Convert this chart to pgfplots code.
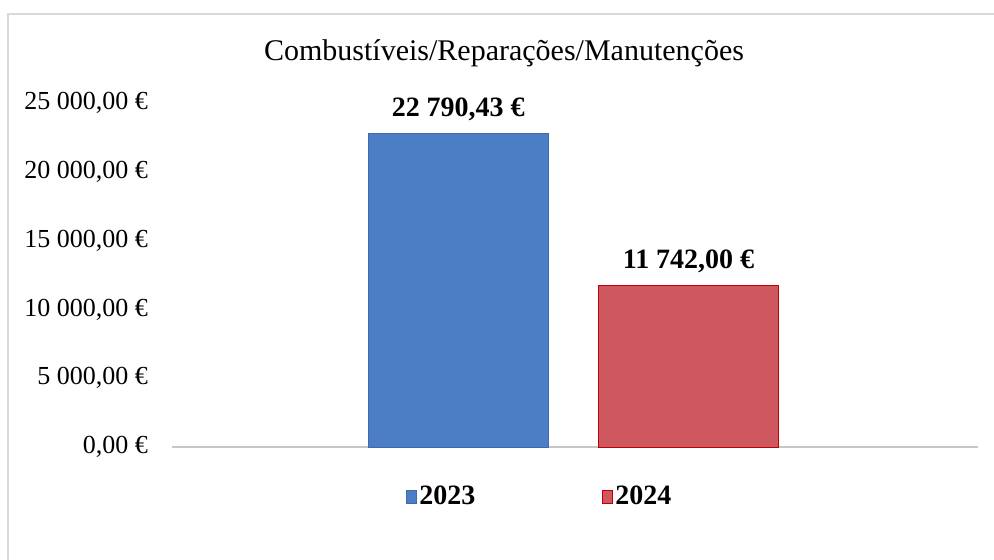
\documentclass[border=0pt]{standalone}
\usepackage{fontspec}
\setmainfont{Liberation Serif}
\usepackage{pgfplots}
\pgfplotsset{compat=1.18}
\definecolor{bluebar}{RGB}{76,126,198}
\definecolor{redbar}{RGB}{207,88,96}

\begin{document}
\begin{tikzpicture}
% page is 994x560 px at 0.5pt per px
\useasboundingbox (0pt,0pt) rectangle (497pt,-280pt);
\draw[gray!30, line width=0.6pt] (4pt,-280pt) -- (4pt,-7pt) -- (497pt,-7pt);
\node[font=\fontsize{15}{17}\selectfont] at (252pt,-26.5pt) {Combustíveis/Reparações/Manutenções};
\begin{axis}[
    at={(86pt,-223.5pt)}, anchor=south west,
    scale only axis,
    width=403pt, height=172pt,
    xmin=0, xmax=3.5,
    ymin=0, ymax=25000,
    ybar, bar width=0.78, bar shift=0pt,
    xtick=\empty,
    scaled y ticks=false,
    ytick={0,5000,10000,15000,20000,25000},
    yticklabels={{0,00 €}, {5 000,00 €}, {10 000,00 €}, {15 000,00 €}, {20 000,00 €}, {25 000,00 €}},
    yticklabel style={font=\fontsize{13}{15}\selectfont, xshift=-8.5pt},
    major tick length=0pt,
    axis x line*=bottom, axis y line*=left,
    y axis line style={draw=none},
    x axis line style={draw=gray!45, line width=0.6pt, -},
    nodes near coords, point meta=explicit symbolic,
    every node near coord/.append style={font=\bfseries\fontsize{14}{16}\selectfont, black, yshift=3pt},
    legend style={at={(0.457,-0.145)}, anchor=center, draw=none, fill=none,
        legend columns=2, font=\bfseries\fontsize{14}{16}\selectfont,
        nodes={inner sep=1.5pt},
        /tikz/every even column/.append style={column sep=62pt}},
    legend image code/.code={\fill[#1] (0pt,-3.2pt) rectangle (4.6pt,3.2pt);},
]
\addplot[fill=bluebar, draw=bluebar!85!black] coordinates {(1.243,22790.43) [22 790,43 €]};
\addlegendentry{2023}
\addplot[fill=redbar, draw=red!75!black] coordinates {(2.243,11742.00) [11 742,00 €]};
\addlegendentry{2024}
\end{axis}
\end{tikzpicture}
\end{document}
